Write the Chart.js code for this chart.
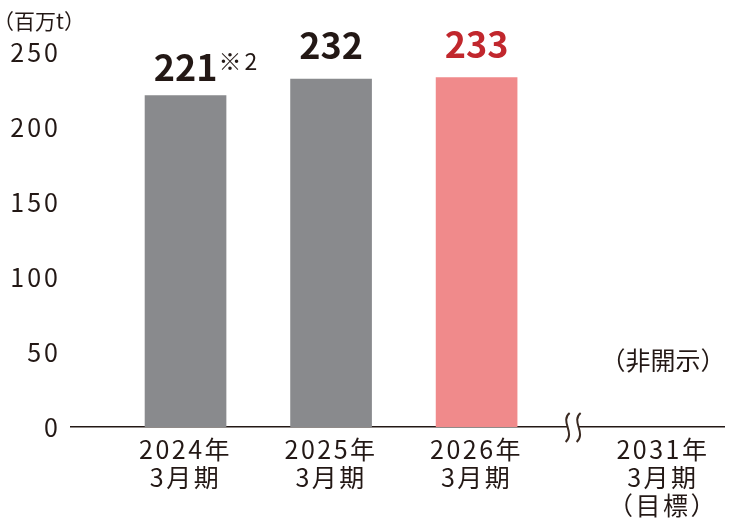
<!DOCTYPE html>
<html lang="ja">
<head>
<meta charset="UTF-8">
<script src="https://cdn.jsdelivr.net/npm/chart.js@4"></script>
<title>排出量</title>
<style>
  html, body { margin: 0; padding: 0; background: #fff; }
  #wrap { width: 745px; height: 525px; position: relative; }
</style>
</head>
<body>
<div id="wrap"><canvas id="myChart"></canvas></div>
<script>
// data
var categories = [['2024年', '3月期'], ['2025年', '3月期'], ['2026年', '3月期'], ['2031年', '3月期', '（目標）']];
var values = [221, 232, 233, null];
var valueNotes = ['※2', '', '', ''];
var yTicks = [0, 50, 100, 150, 200, 250];
var unitLabel = '（百万t）';
var hiddenLabel = '（非開示）';

// layout
var BREAK_SHIFT = 0.28;   // extra room after the axis break
var BREAK_AT = 2.66;      // where the squiggle sits on the x axis
var FONT = '"Noto Sans CJK JP", "Noto Sans", sans-serif';
var INK = '#231815';
var barColors = ['#898a8d', '#898a8d', '#f08a8b', '#f08a8b'];
var labelColors = [INK, INK, '#c1272d', INK];

var slots = categories.map(function (c, i) { return i + (i >= 3 ? BREAK_SHIFT : 0); });

var decor = {
  id: 'decor',
  beforeDraw: function (chart) {
    chart.ctx.letterSpacing = '3px';
  },
  afterDatasetsDraw: function (chart) {
    var ctx = chart.ctx;
    ctx.save();
    ctx.letterSpacing = '0px';
    var meta = chart.getDatasetMeta(0);
    meta.data.forEach(function (bar, i) {
      if (values[i] == null) return;
      var base = bar.y - (valueNotes[i] ? 15 : 20);
      ctx.font = 'bold 36px ' + FONT;
      ctx.fillStyle = labelColors[i];
      ctx.textAlign = 'center';
      ctx.textBaseline = 'alphabetic';
      var txt = String(values[i]);
      ctx.fillText(txt, bar.x, base);
      if (valueNotes[i]) {
        var w = ctx.measureText(txt).width;
        ctx.font = '23px ' + FONT;
        ctx.letterSpacing = '3px';
        ctx.textAlign = 'left';
        ctx.fillText(valueNotes[i], bar.x + w / 2 + 1, base - 11);
        ctx.letterSpacing = '0px';
      }
    });
    ctx.restore();
    ctx.letterSpacing = '2.5px';
  },
  afterDraw: function (chart) {
    var ctx = chart.ctx;
    var xs = chart.scales.x, ys = chart.scales.y;
    ctx.save();
    ctx.letterSpacing = '0px';
    ctx.fillStyle = INK;
    // unit
    ctx.font = '21px ' + FONT;
    ctx.textAlign = 'center';
    ctx.textBaseline = 'middle';
    ctx.fillText(unitLabel, 39, 21);
    // undisclosed target
    ctx.font = '25px ' + FONT;
    ctx.fillText(hiddenLabel, xs.getPixelForValue(slots[3]), 360);
    // axis break mark
    var bx = xs.getPixelForValue(BREAK_AT);
    var by = ys.getPixelForValue(0);
    ctx.fillStyle = '#fff';
    ctx.fillRect(bx - 5, by - 3, 11, 6);
    ctx.strokeStyle = '#3a2a22';
    ctx.lineWidth = 2;
    [bx - 5, bx + 6].forEach(function (x) {
      ctx.beginPath();
      ctx.moveTo(x + 2, by - 14);
      ctx.bezierCurveTo(x - 8, by - 6, x + 8, by + 6, x - 2, by + 15);
      ctx.stroke();
    });
    ctx.restore();
  }
};

var ctx = document.getElementById('myChart').getContext('2d');
var myChart = new Chart(ctx, {
  type: 'bar',
  data: {
    datasets: [{
      data: values.map(function (v, i) { return { x: slots[i], y: v }; }),
      backgroundColor: barColors,
      barThickness: 81
    }]
  },
  options: {
    responsive: true,
    maintainAspectRatio: false,
    animation: false,
    layout: { padding: { top: 52, right: 21, left: 0, bottom: 0 } },
    plugins: { legend: { display: false }, tooltip: { enabled: false } },
    scales: {
      x: {
        type: 'linear',
        offset: false,
        min: -0.787,
        max: 3.70,
        grid: { display: false, drawTicks: false },
        border: { display: true, color: INK, width: 1.5 },
        afterFit: function (s) { s.height = 98; },
        afterBuildTicks: function (s) {
          s.ticks = slots.map(function (v) { return { value: v }; });
        },
        ticks: {
          z: 1,
          padding: 8,
          color: INK,
          font: { family: FONT, size: 25, lineHeight: 1.12 },
          maxRotation: 0,
          autoSkip: false,
          callback: function (v) {
            var i = slots.indexOf(v);
            return i >= 0 ? categories[i] : '';
          }
        }
      },
      y: {
        min: 0,
        max: 250,
        grid: { display: false, drawTicks: false },
        border: { display: false },
        afterFit: function (s) { s.width = 71; },
        afterBuildTicks: function (s) {
          s.ticks = yTicks.map(function (v) { return { value: v }; });
        },
        ticks: {
          padding: 10,
          color: INK,
          font: { family: FONT, size: 25 }
        }
      }
    }
  },
  plugins: [decor]
});
</script>
</body>
</html>
